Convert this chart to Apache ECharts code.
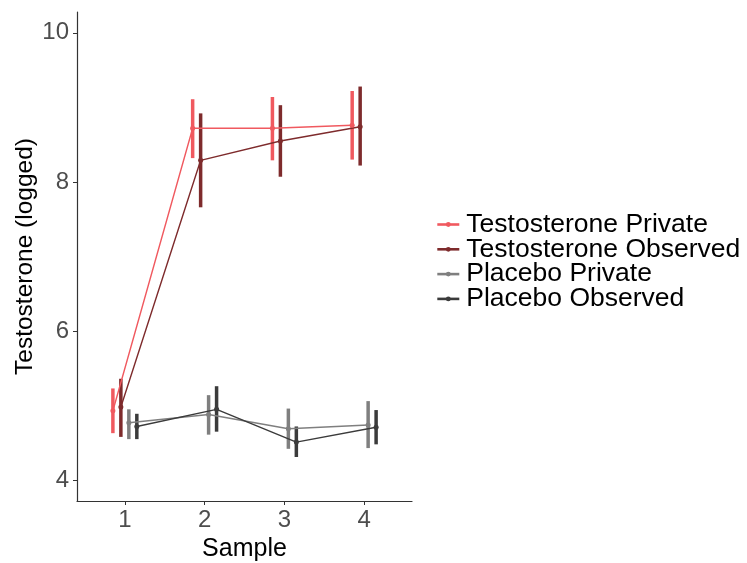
<!DOCTYPE html>
<html>
<head>
<meta charset="utf-8">
<script src="https://cdn.jsdelivr.net/npm/echarts@6/dist/echarts.min.js"></script>
<style>html,body{margin:0;padding:0;background:#fff}#c{width:747px;height:563px}</style>
</head>
<body>
<div id="c"></div>
<script>
const samples = [1, 2, 3, 4];
const seriesNames = ['Testosterone Private', 'Testosterone Observed', 'Placebo Private', 'Placebo Observed'];
const colors = ['#F0595F', '#7E2B2C', '#7F7F7F', '#3B3B3B'];

const tpMean = [4.93, 8.72, 8.72, 8.76];
const tpLow  = [4.63, 8.32, 8.29, 8.30];
const tpHigh = [5.23, 9.11, 9.14, 9.22];

const toMean = [4.98, 8.29, 8.55, 8.74];
const toLow  = [4.58, 7.66, 8.07, 8.22];
const toHigh = [5.36, 8.92, 9.03, 9.28];

const ppMean = [4.77, 4.88, 4.69, 4.74];
const ppLow  = [4.55, 4.61, 4.42, 4.43];
const ppHigh = [4.95, 5.14, 4.96, 5.06];

const poMean = [4.72, 4.95, 4.51, 4.71];
const poLow  = [4.55, 4.65, 4.31, 4.48];
const poHigh = [4.89, 5.26, 4.72, 4.94];

const yTicks = [4, 6, 8, 10];

const means = [tpMean, toMean, ppMean, poMean];
const lows = [tpLow, toLow, ppLow, poLow];
const highs = [tpHigh, toHigh, ppHigh, poHigh];
const dodge = [-0.15, -0.05, 0.05, 0.15];

const FONT = 'Liberation Sans, Arial, sans-serif';
const series = [];
seriesNames.forEach((name, i) => {
  series.push({
    type: 'custom',
    name: name + ' (error bar)',
    data: samples.map((s, j) => [s + dodge[i], lows[i][j], highs[i][j]]),
    renderItem: function (params, api) {
      const a = api.coord([api.value(0), api.value(1)]);
      const b = api.coord([api.value(0), api.value(2)]);
      return {
        type: 'line',
        shape: { x1: a[0], y1: a[1], x2: b[0], y2: b[1] },
        style: { stroke: colors[i], lineWidth: 3.5 }
      };
    },
    encode: { x: 0, y: [1, 2] },
    itemStyle: { color: colors[i] },
    silent: true,
    z: 2
  });
});
seriesNames.forEach((name, i) => {
  series.push({
    type: 'line',
    name: name,
    data: samples.map((s, j) => [s + dodge[i], means[i][j]]),
    symbol: 'circle',
    symbolSize: 5,
    lineStyle: { color: colors[i], width: 1.4 },
    itemStyle: { color: colors[i] },
    z: 3,
    animation: false
  });
});

const chart = echarts.init(document.getElementById('c'));
chart.setOption({
  animation: false,
  backgroundColor: '#fff',
  grid: { left: 77, right: 335, top: 12, bottom: 62, containLabel: false, outerBoundsMode: 'none' },
  legend: {
    data: seriesNames,
    orient: 'vertical',
    left: 436,
    top: 211,
    padding: 0,
    itemWidth: 22,
    itemHeight: 6,
    itemGap: -2.2,
    lineStyle: { width: 2.6 },
    textStyle: { fontFamily: FONT, fontSize: 26.5, color: '#000', padding: [0, 0, 0, 2] }
  },
  xAxis: {
    type: 'value',
    min: 0.4,
    max: 4.6,
    name: 'Sample',
    nameLocation: 'middle',
    nameGap: 33,
    nameTextStyle: { fontFamily: FONT, fontSize: 25, color: '#000' },
    axisLine: { show: true, lineStyle: { color: '#333', width: 1.2 } },
    axisTick: { show: true, length: 4, lineStyle: { color: '#333' }, customValues: samples },
    axisLabel: { fontFamily: FONT, fontSize: 24, color: '#4D4D4D', margin: 7, customValues: samples },
    splitLine: { show: false }
  },
  yAxis: {
    type: 'value',
    min: 3.72,
    max: 10.28,
    name: 'Testosterone (logged)',
    nameLocation: 'middle',
    nameGap: 39,
    nameTextStyle: { fontFamily: FONT, fontSize: 24.5, color: '#000' },
    axisLine: { show: true, lineStyle: { color: '#333', width: 1.2 } },
    axisTick: { show: true, length: 4, lineStyle: { color: '#333' }, customValues: yTicks },
    axisLabel: { fontFamily: FONT, fontSize: 24, color: '#4D4D4D', margin: 8, customValues: yTicks },
    splitLine: { show: false }
  },
  series: series
});
</script>
</body>
</html>
